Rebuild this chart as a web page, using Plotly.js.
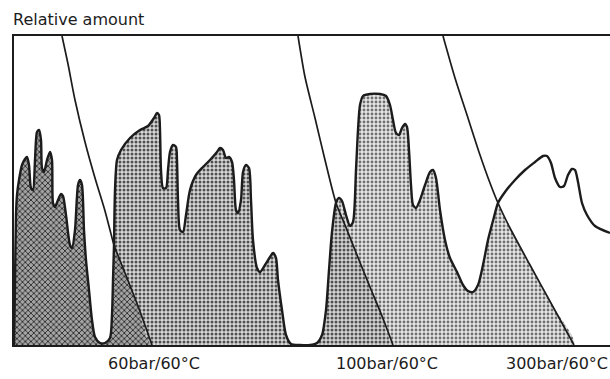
<!DOCTYPE html>
<html>
<head>
<meta charset="utf-8">
<script src="https://cdn.plot.ly/plotly-3.0.1.min.js"></script>
<style>html,body{margin:0;padding:0;background:#fff;}#chart{width:610px;height:379px;}</style>
</head>
<body>
<div id="chart"></div>
<script>
// Detector trace (arbitrary time units vs relative amount)
var sigX = [0,1,2,3,5,8,11,13,15,17,19,21,23,25,27,28,30,33,36,38,39,41,44,47,49,52,56,58,61,64,66,68,70,72,75,78,81,86,91,96,98,99,
  100,101,103,107,116,126,134,140,143,145,146,147,149,152,154,156,159,162,163,164,166,169,172,176,182,189,196,203,206,209,212,215,218,220,222,224,227,229,232,235,237,239,243,246,251,256,259,262,264,268,272,277,286,
  296,303,308,312,315,318,322,325,328,332,336,339,342,344,346,349,356,366,372,376,379,382,385,388,391,393,395,397,399,402,406,411,416,419,422,426,431,436,443,449,454,459,464,469,474,480,
  484,491,501,511,521,529,533,537,541,546,550,554,558,561,564,568,573,581,596];
var sigY = [0,60,130,150,165,180,186,188,180,157,155,185,213,215,205,177,173,185,193,185,142,138,145,151,149,130,100,97,115,160,165,160,115,85,55,25,8,2,2,7,30,65,
  100,155,185,195,207,215,219,227,232,230,215,175,157,157,175,193,200,198,185,145,115,113,130,155,170,178,185,193,197,195,187,188,183,165,135,132,145,173,180,177,145,105,77,73,80,88,92,87,65,35,10,1,0,
  0,2,10,35,75,113,142,147,144,130,119,123,175,215,240,249,251,251,249,240,225,212,210,217,221,218,195,160,140,137,145,160,173,175,167,135,105,87,73,60,54,53,60,80,105,128,
  142,153,165,175,183,189,189,182,167,158,159,170,176,175,163,142,130,119,112];
// Boundary curves between fractions
var line1X = [48,54,61,71,81,91,96,100,111,124,138];
var line1Y = [309,281,245,203,167,134,115,100,72,39,0];
var line2X = [284,291,301,311,322,331,343,356,368,379];
var line2Y = [309,268,227,185,142,120,90,58,29,0];
var line3X = [429,441,453,466,476,484,496,516,538,560];
var line3Y = [309,267,230,190,162,142,117,80,40,0];
// Fraction labels
var fracPos = [140, 373, 543];
var fracLabels = ['60bar/60°C', '100bar/60°C', '300bar/60°C'];

function seg(xs, ys, a, b) {
  var ox = [], oy = [];
  for (var i = 0; i < xs.length; i++) {
    if (xs[i] >= a && xs[i] <= b) { ox.push(xs[i]); oy.push(ys[i]); }
  }
  return {x: ox, y: oy};
}
function rev(s) { return {x: s.x.slice().reverse(), y: s.y.slice().reverse()}; }
function join() {
  var ox = [], oy = [];
  for (var i = 0; i < arguments.length; i++) { ox = ox.concat(arguments[i].x); oy = oy.concat(arguments[i].y); }
  return {x: ox, y: oy};
}
var c1x = 100, c2x = 322, c3x = 484;

var polyA = join(seg(sigX, sigY, 0, c1x), seg(line1X, line1Y, c1x, 999));
var polyB = join(seg(sigX, sigY, c1x, 286), rev(seg(line1X, line1Y, c1x, 999)));
var polyC = join(seg(sigX, sigY, 296, c2x), seg(line2X, line2Y, c2x, 999));
var polyD = join(seg(sigX, sigY, c2x, c3x), seg(line3X, line3Y, c3x, 999), rev(seg(line2X, line2Y, c2x, 999)));

function fillTrace(p, pat) {
  return {x: p.x, y: p.y, mode: 'lines', fill: 'toself', hoverinfo: 'skip',
    line: {width: 0, shape: 'spline', smoothing: 0.7}, fillcolor: pat.bgcolor,
    fillpattern: pat};
}
var ink = '#1c1c1c';
var traces = [
  fillTrace(polyA, {shape: 'x', fgcolor: '#2a2a2a', bgcolor: '#a4a4a4', size: 4, solidity: 0.4}),
  fillTrace(polyB, {shape: '.', fgcolor: '#505050', bgcolor: '#d8d8d8', size: 4, solidity: 0.45}),
  fillTrace(polyC, {shape: '.', fgcolor: '#505050', bgcolor: '#d4d4d4', size: 4, solidity: 0.45}),
  fillTrace(polyD, {shape: '.', fgcolor: '#707070', bgcolor: '#e6e6e6', size: 4, solidity: 0.4}),
  {x: line1X, y: line1Y, mode: 'lines', line: {color: ink, width: 1.7, shape: 'spline', smoothing: 0.7}, hoverinfo: 'skip'},
  {x: line2X, y: line2Y, mode: 'lines', line: {color: ink, width: 1.7, shape: 'spline', smoothing: 0.7}, hoverinfo: 'skip'},
  {x: line3X, y: line3Y, mode: 'lines', line: {color: ink, width: 1.7, shape: 'spline', smoothing: 0.7}, hoverinfo: 'skip'},
  {x: sigX, y: sigY, mode: 'lines', line: {color: ink, width: 2.4, shape: 'spline', smoothing: 0.7}, hoverinfo: 'skip'}
];

var layout = {
  width: 610, height: 379,
  margin: {l: 14, r: 0, t: 36, b: 34},
  paper_bgcolor: '#ffffff', plot_bgcolor: '#ffffff',
  showlegend: false,
  font: {family: 'DejaVu Sans', color: ink},
  xaxis: {range: [0, 596], showgrid: false, zeroline: false, showline: true, mirror: true,
    linecolor: ink, linewidth: 2, ticks: '', tickvals: fracPos, ticktext: fracLabels,
    tickfont: {family: 'DejaVu Sans', size: 16, color: ink}, ticklabelstandoff: 3, fixedrange: true},
  yaxis: {range: [0, 309], showgrid: false, zeroline: false, showline: true, mirror: false,
    linecolor: ink, linewidth: 2, showticklabels: false, ticks: '', fixedrange: true},
  annotations: [{
    text: 'Relative amount', xref: 'paper', yref: 'paper', x: 0, y: 1,
    xanchor: 'left', yanchor: 'middle', xshift: -3, yshift: 17, showarrow: false,
    font: {family: 'DejaVu Sans', size: 16, color: ink}
  }]
};
Plotly.newPlot('chart', traces, layout, {staticPlot: true, displayModeBar: false});
</script>
</body>
</html>
